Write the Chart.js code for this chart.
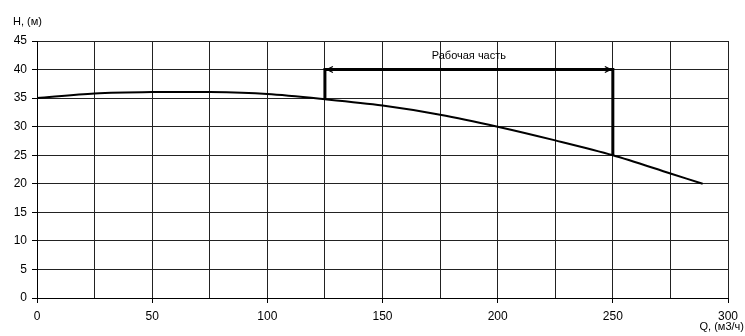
<!DOCTYPE html>
<html>
<head>
<meta charset="utf-8">
<script src="https://cdn.jsdelivr.net/npm/chart.js@4.4.0/dist/chart.umd.min.js"></script>
<style>
  html, body { margin: 0; padding: 0; background: #fff; }
  #wrap { width: 745px; height: 336px; }
</style>
</head>
<body>
<div id="wrap"><canvas id="pumpChart" width="745" height="336"></canvas></div>
<script>
// Pump curve H(Q)
const qValues = [0, 25, 50, 75, 100, 125, 150, 175, 200, 225, 250, 275, 289];
const hValues = [35, 35.8, 36.05, 36.05, 35.7, 34.8, 33.7, 32.1, 30, 27.6, 25, 21.8, 20];

// Working range bracket
const workQ = [125, 125, 250, 250];
const workH = [34.8, 40, 40, 25];
const workLabel = 'Рабочая часть';

const xLabel = 'Q, (м3/ч)';
const yLabel = 'H, (м)';

const FAMILY = '"Liberation Sans", Arial, sans-serif';

const overlayPlugin = {
    id: 'overlay',
    afterDatasetsDraw(chart) {
        const { ctx, scales: { x, y } } = chart;
        ctx.save();
        ctx.fillStyle = '#000';
        ctx.strokeStyle = '#000';

        // arrow heads on the bracket
        const yA = y.getPixelForValue(workH[1]);
        const xL = x.getPixelForValue(workQ[1]);
        const xR = x.getPixelForValue(workQ[2]);
        ctx.lineWidth = 1.2;
        ctx.beginPath();
        ctx.moveTo(xL + 8, yA - 3); ctx.lineTo(xL + 2, yA); ctx.lineTo(xL + 8, yA + 3);
        ctx.moveTo(xR - 8, yA - 3); ctx.lineTo(xR - 2, yA); ctx.lineTo(xR - 8, yA + 3);
        ctx.stroke();

        ctx.font = '11px ' + FAMILY;
        ctx.textAlign = 'center';
        ctx.textBaseline = 'middle';
        ctx.fillText(workLabel, (xL + xR) / 2, y.getPixelForValue(42.3));

        // axis titles
        ctx.textAlign = 'left';
        ctx.fillText(yLabel, 13, 22);
        ctx.textAlign = 'right';
        ctx.fillText(xLabel, 744, 327);
        ctx.restore();
    }
};

new Chart(document.getElementById('pumpChart'), {
    type: 'scatter',
    data: {
        datasets: [
            {
                data: qValues.map((q, i) => ({ x: q, y: hValues[i] })),
                showLine: true,
                borderColor: '#000',
                borderWidth: 2,
                pointRadius: 0,
                tension: 0.3
            },
            {
                data: workQ.map((q, i) => ({ x: q, y: workH[i] })),
                showLine: true,
                borderColor: '#000',
                borderWidth: 3,
                pointRadius: 0,
                tension: 0
            }
        ]
    },
    options: {
        responsive: false,
        animation: false,
        devicePixelRatio: 1,
        layout: { padding: { top: 41, right: 17, left: 0, bottom: 0 } },
        plugins: { legend: { display: false }, tooltip: { enabled: false } },
        scales: {
            x: {
                type: 'linear',
                min: 0,
                max: 300,
                afterFit: s => { s.height = 38; },
                border: { color: '#000', width: 1 },
                grid: {
                    color: '#222',
                    lineWidth: 1,
                    tickLength: 5,
                    tickColor: c => (c.tick && c.tick.value % 50 === 0) ? '#000' : 'rgba(0,0,0,0)'
                },
                ticks: {
                    stepSize: 25,
                    maxRotation: 0,
                    autoSkip: false,
                    padding: 6,
                    color: '#000',
                    font: { family: FAMILY, size: 12 },
                    callback: v => v % 50 === 0 ? v : ''
                }
            },
            y: {
                min: 0,
                max: 45,
                afterFit: s => { s.width = 37; },
                border: { color: '#000', width: 1 },
                grid: { color: '#222', lineWidth: 1, tickLength: 5, tickColor: '#000' },
                ticks: {
                    stepSize: 5,
                    padding: 5,
                    color: '#000',
                    font: { family: FAMILY, size: 12 }
                }
            }
        }
    },
    plugins: [overlayPlugin]
});
</script>
</body>
</html>
